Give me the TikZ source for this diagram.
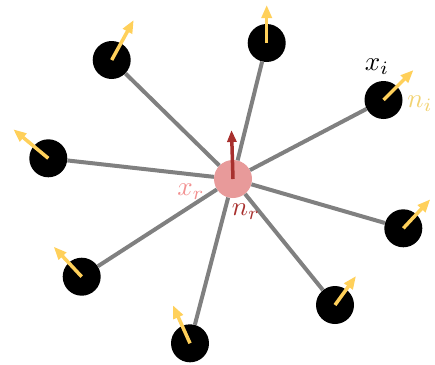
\documentclass[tikz,border=0pt]{standalone}
\usetikzlibrary{arrows.meta}
\definecolor{grigio}{HTML}{808080}
\definecolor{rosa}{HTML}{E89A9A}
\definecolor{rosachiaro}{HTML}{F29090}
\definecolor{rosso}{HTML}{A8302E}
\definecolor{giallo}{HTML}{FFD05A}
\definecolor{giallochiaro}{HTML}{F2D372}
\newcommand{\etic}[1]{\scalebox{2.7}{$#1$}}
\begin{document}
\begin{tikzpicture}[x=1pt,y=-1pt,
    punto/.style={circle,fill=black,minimum size=38pt,inner sep=0pt},
    centro/.style={circle,fill=rosa,minimum size=38pt,inner sep=0pt},
    raggio/.style={draw=grigio,line width=4pt},
    normale/.style={-{Triangle[width=10pt,length=13pt]},line width=3.5pt,draw=giallo},
    etichetta/.style={inner sep=0pt}]
    \useasboundingbox (0,0) rectangle (435,364);
    % punto di riferimento
        \node[centro] (r) at (233,179) {};
    % punti vicini con le loro normali
        \foreach \n/\x/\y/\u/\v in {1/111.7/60/22/-40, 2/266.7/43/0/-38, 3/383.5/100/30/-30,
            4/48.3/158.3/-35/-29, 5/403.3/228.3/27/-29, 6/81.7/276.7/-28/-30,
            7/335/305/21/-29, 8/190/343.3/-17/-38}{
            \node[punto] (p\n) at (\x,\y) {};
            \coordinate (t\n) at (\x+\u,\y+\v);
            \draw[raggio] (r) -- (p\n);
            \draw[normale] (p\n.center) -- (t\n);
        }
    % normale del riferimento
        \coordinate (tr) at (231.5,130);
        \draw[normale,draw=rosso,-{Triangle[width=9pt,length=12pt]},line width=3.5pt] (r.center) -- (tr);
    % etichette
        \node[etichetta] (xi) at (377,67) {\etic{x_i}};
        \node[etichetta,text=giallochiaro] (ni) at (420,104) {\etic{n_i}};
        \node[etichetta,text=rosachiaro] (xr) at (191,192) {\etic{x_r}};
        \node[etichetta,text=rosso] (nr) at (246,212) {\etic{n_r}};
\end{tikzpicture}
\end{document}
